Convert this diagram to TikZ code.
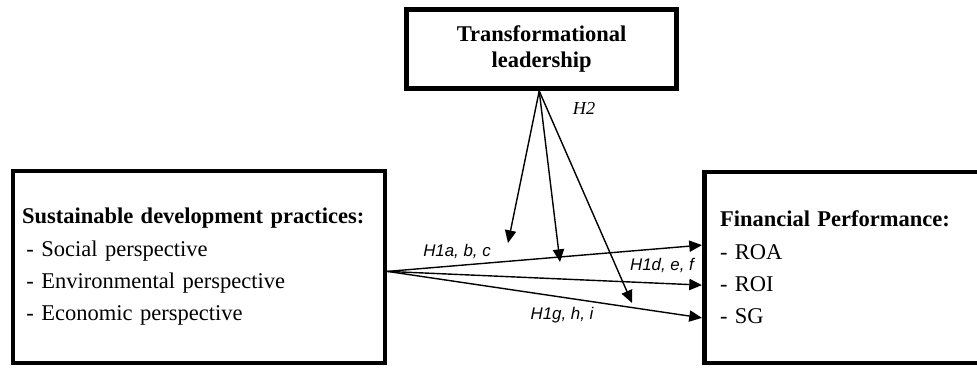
\documentclass[tikz,border=0pt]{standalone}
\usepackage{fontspec}
\setmainfont{Liberation Serif}
\newfontfamily\hypfont{Liberation Sans}
\usetikzlibrary{arrows.meta}

\begin{document}
\begin{tikzpicture}[
  box/.style={draw,line width=3.5pt,rectangle,inner ysep=0pt},
  link/.style={line width=1pt,-{Triangle[length=9pt,width=8pt]}},
  hyp/.style={font=\hypfont\itshape\fontsize{12}{14}\selectfont}
]
\useasboundingbox (0,0) rectangle (24.425,9.2);
\clip (0,0) rectangle (24.425,9.2);

\node[box,minimum width=6.7625cm,minimum height=1.975cm,align=center,
  font=\bfseries\fontsize{16}{18.5}\selectfont] (tl) at (13.54,7.975) {Transformational\\leadership};
\node[box,inner xsep=0.225cm,text width=8.85cm,minimum height=4.8cm,align=left,
  font=\fontsize{16}{23}\selectfont] (sdp) at (4.975,2.525)
  {\textbf{Sustainable development practices:}\\
   \hspace*{0.2em}- Social perspective\\
   \hspace*{0.2em}- Environmental perspective\\
   \hspace*{0.2em}- Economic perspective};
\node[box,inner xsep=0.39cm,text width=6.36cm,minimum height=4.775cm,align=left,
  font=\fontsize{16}{23}\selectfont] (fp) at (21.18,2.5125)
  {\textbf{Financial Performance:}\\
   - ROA\\
   - ROI\\
   - SG};

\coordinate (sdpout) at ([yshift=-1.1mm]sdp.east);
\coordinate (tlout) at ([xshift=-0.6mm]tl.south);
\coordinate (m1) at (12.7,3.125);
\coordinate (m2) at (14.0,2.65);
\coordinate (m3) at (15.8,1.625);

\foreach \dy in {5.6,-4.4,-12.6} {
    \draw[link] (sdpout) -- ([yshift=\dy mm]fp.west);
}
\foreach \m in {m1,m2,m3} {
    \draw[link] (tlout) -- (\m);
}

\node[font=\itshape\fontsize{13}{15}\selectfont] (h2) at (14.6,6.5) {H2};
\node[hyp] (h1abc) at (11.425,2.925) {H1a, b, c};
\node[hyp] (h1def) at (16.55,2.575) {H1d, e, f};
\node[hyp] (h1ghi) at (14.05,1.325) {H1g, h, i};
\end{tikzpicture}
\end{document}
